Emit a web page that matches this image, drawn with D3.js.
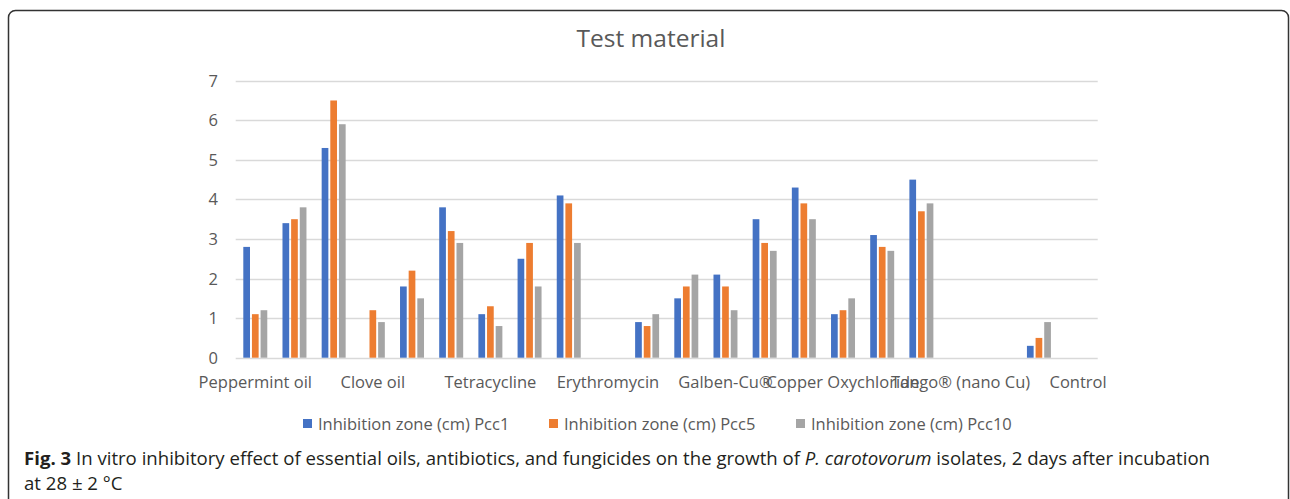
<!DOCTYPE html>
<html>
<head>
<meta charset="utf-8">
<script src="https://cdn.jsdelivr.net/npm/d3@7"></script>
<style>
  body { margin: 0; background: #fff; }
  text { font-family: "Open Sans", sans-serif; }
</style>
</head>
<body>
<div id="chart"></div>
<script>

// 22 categories: 7 materials x 3 doses, then Control
var categories = ["c1","c2","c3","c4","c5","c6","c7","c8","c9","c10","c11",
                  "c12","c13","c14","c15","c16","c17","c18","c19","c20","c21","c22"]
var tickLabels = ["Peppermint oil","","","Clove oil","","","Tetracycline","","",
                  "Erythromycin","","","Galben-Cu®","","","Copper Oxychloride","","",
                  "Tango® (nano Cu)","","","Control"]
var seriesNames = ["Inhibition zone (cm) Pcc1","Inhibition zone (cm) Pcc5","Inhibition zone (cm) Pcc10"]
var pcc1  = [2.8,3.4,5.3,0,  1.8,3.8,1.1,2.5,4.1,0,0.9,1.5,2.1,3.5,4.3,1.1,3.1,4.5,0,0,0.3,0]
var pcc5  = [1.1,3.5,6.5,1.2,2.2,3.2,1.3,2.9,3.9,0,0.8,1.8,1.8,2.9,3.9,1.2,2.8,3.7,0,0,0.5,0]
var pcc10 = [1.2,3.8,5.9,0.9,1.5,2.9,0.8,1.8,2.9,0,1.1,2.1,1.2,2.7,3.5,1.5,2.7,3.9,0,0,0.9,0]
var yTicks = [0,1,2,3,4,5,6,7]
var colors = ["#4472C4","#ED7D31","#A5A5A5"]

var series = [pcc1, pcc5, pcc10]
var width = 1290, height = 499

var svg = d3.select("#chart").append("svg")
    .attr("width", width)
    .attr("height", height)

// figure frame
svg.append("rect")
    .attr("x", 8.5).attr("y", 10.5)
    .attr("width", 1280).attr("height", 600)
    .attr("rx", 7)
    .attr("fill", "none")
    .attr("stroke", "#333")
    .attr("stroke-width", 1.5)

var x = d3.scaleBand().domain(categories).range([235.7, 1097.7])
var x1 = d3.scaleBand().domain(d3.range(3))
    .range([x.bandwidth()*0.194, x.bandwidth()*0.806])
    .paddingInner(0.225)
var y = d3.scaleLinear().domain([0, 7]).range([357.7, 80.7])

// gridlines
svg.append("g").selectAll("line")
    .data(yTicks).enter().append("line")
    .attr("x1", 235.7).attr("x2", 1097.7)
    .attr("y1", function(d){ return Math.round(y(d)) + 0.5 })
    .attr("y2", function(d){ return Math.round(y(d)) + 0.5 })
    .attr("stroke", "#d9d9d9")
    .attr("stroke-width", 1.5)

// y labels
svg.append("g").selectAll("text")
    .data(yTicks).enter().append("text")
    .attr("x", 218)
    .attr("y", function(d){ return y(d) + 6 })
    .attr("text-anchor", "end")
    .attr("font-size", "16.5px")
    .attr("fill", "#595959")
    .text(function(d){ return d })

// bars
series.forEach(function(vals, s){
  svg.append("g").selectAll("rect")
    .data(vals).enter().append("rect")
    .attr("x", function(d,i){ return x(categories[i]) + x1(s) })
    .attr("width", x1.bandwidth())
    .attr("y", function(d){ return y(d) })
    .attr("height", function(d){ return y(0) - y(d) })
    .attr("fill", colors[s])
})

// x labels
svg.append("g").selectAll("text")
    .data(categories).enter().append("text")
    .attr("x", function(d){ return x(d) + x.bandwidth()/2 })
    .attr("y", 388)
    .attr("text-anchor", "middle")
    .attr("font-size", "16.5px")
    .attr("fill", "#595959")
    .text(function(d,i){ return tickLabels[i] })

// title
svg.append("text")
    .attr("x", 651).attr("y", 47)
    .attr("text-anchor", "middle")
    .attr("font-size", "24.5px")
    .attr("fill", "#595959")
    .text("Test material")

// legend
var legX = [303, 549, 796]
seriesNames.forEach(function(name, s){
  svg.append("rect")
    .attr("x", legX[s]).attr("y", 419)
    .attr("width", 9).attr("height", 9)
    .attr("fill", colors[s])
  svg.append("text")
    .attr("x", legX[s] + 15).attr("y", 429.5)
    .attr("font-size", "16.5px")
    .attr("fill", "#595959")
    .text(name)
})

// caption
var cap = svg.append("text")
    .attr("x", 24).attr("y", 465)
    .attr("font-size", "18.6px")
    .attr("fill", "#231f20")
cap.append("tspan").attr("font-weight", "bold").text("Fig. 3")
cap.append("tspan").text(" In vitro inhibitory effect of essential oils, antibiotics, and fungicides on the growth of ")
cap.append("tspan").attr("font-style", "italic").text("P. carotovorum")
cap.append("tspan").text(" isolates, 2 days after incubation")

svg.append("text")
    .attr("x", 24).attr("y", 490)
    .attr("font-size", "18.6px")
    .attr("fill", "#231f20")
    .text("at 28 ± 2 °C")

</script>
</body>
</html>
